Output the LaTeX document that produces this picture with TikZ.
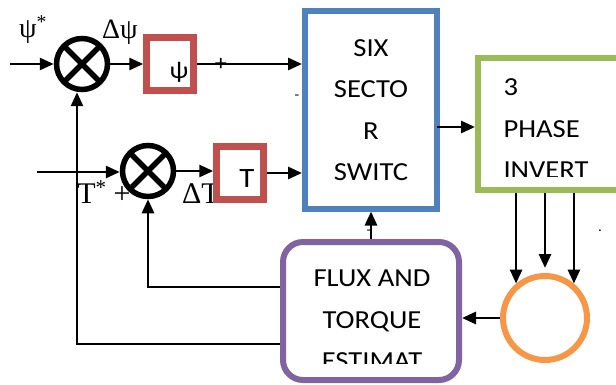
\documentclass[tikz,border=0pt]{standalone}
\usepackage{fontspec}
\setmainfont{Liberation Serif}
\newfontfamily\boxfont[FakeStretch=1.1]{Carlito}
\usetikzlibrary{arrows.meta,positioning,calc}
\definecolor{fluxred}{HTML}{C0504D}
\definecolor{ctrlblue}{HTML}{4F81BD}
\definecolor{invgreen}{HTML}{9BBB59}
\definecolor{estpurple}{HTML}{8064A2}
\definecolor{motororange}{HTML}{F79646}

\begin{document}
\begin{tikzpicture}[x=1pt, y=-1pt,
  >={Triangle[length=14pt,width=12pt]},
  wire/.style={line width=2.8pt},
  sum/.style={circle, draw, line width=5.5pt, minimum size=51pt, inner sep=0pt,
    path picture={\draw[line width=5.5pt] (path picture bounding box.north west) -- (path picture bounding box.south east)
      (path picture bounding box.north east) -- (path picture bounding box.south west);}},
  hyst/.style={draw=fluxred, fill=white, line width=6.5pt, minimum width=47pt, minimum height=53pt, inner sep=0pt},
  blk/.style={line width=6pt, inner sep=0pt},
  boxtxt/.style={font=\boxfont\fontsize{26}{41.5}\selectfont},
  sig/.style={font=\fontsize{28}{28}\selectfont, inner sep=0pt},
  bigsig/.style={font=\fontsize{30}{30}\selectfont, inner sep=0pt},
  mark/.style={font=\boxfont\fontsize{#1}{#1}\selectfont, inner sep=0pt}]
  \clip (0,0) rectangle (616,385);
  % summing junctions
  \node[sum] (sumpsi) at (82,64) {};
  \node[sum] (sumT) at (148,171) {};
  % reference and error labels
  \node[sig] (psiref) at (33,30) {ψ\textsuperscript{*}};
  \node[sig] (dpsi) at (120,32) {Δψ};
  \node[bigsig] (Tref) at (92,192) {T\textsuperscript{*}};
  \node[bigsig] (plusT) at (122,195) {+};
  \node[bigsig] (dT) at (201,194) {ΔT};
  % hysteresis comparators
  \node[hyst] (psibox) at (170,64) {};
  \node[mark=24] (psichar) at (179,72) {ψ};
  \node[hyst] (Tbox) at (240,173) {};
  \node[mark=28] (Tchar) at (247,179) {T};
  % switching table, inverter, estimator, motor
  \node[blk, draw=ctrlblue, minimum width=132pt, minimum height=197pt, boxtxt, align=center] (six) at (371,110) {SIX\\SECTO\\R\\SWITC};
  \node[blk, draw=invgreen, minimum width=162pt, minimum height=132pt] (inv) at (559,124) {};
  \node[blk, draw=estpurple, rounded corners=20pt, minimum width=176pt, minimum height=138pt] (est) at (371,311) {};
  \node[circle, draw=motororange, line width=6pt, minimum size=84pt, inner sep=0pt] (motor) at (545,318) {};
  \begin{scope}
    \clip (inv.north west) rectangle ([yshift=16pt]inv.south east);
    \node[boxtxt, align=left, anchor=west] (invtext) at (500,129) {3\\PHASE\\INVERT};
  \end{scope}
  \begin{scope}
    \clip (est.north west) rectangle ([yshift=20pt]est.south east);
    \node[boxtxt, align=center] (esttext) at (372,320) {FLUX AND\\TORQUE\\ESTIMAT};
  \end{scope}
  % small marks
  \node[mark=22] (plustop) at (221,64) {+};
  \node[mark=14] (minustop) at (297,97) {-};
  \node[mark=14] (minusest) at (369,232) {-};
  \node[mark=14] (dot) at (600,231) {.};
  % forward path
  \coordinate (psiin) at (10,64);
  \coordinate (Tin) at (37,172);
  \draw[wire,->] (psiin) -- (sumpsi);
  \draw[wire,->] (sumpsi) -- (psibox);
  \draw[wire,->] (psibox) -- (psibox -| six.west);
  \draw[wire,->] (Tin) -- (Tin -| sumT.west);
  \draw[wire,->] (sumT.east) -- (sumT.east -| Tbox.west);
  \draw[wire,->] (Tbox.east) -- (Tbox.east -| six.west);
  \coordinate (sixout) at (437,127);
  \draw[wire,->] (sixout) -- (sixout -| inv.west);
  % phase lines
  \draw[wire,->] (motor.130 |- inv.south) -- (motor.130);
  \draw[wire,->] (motor.north |- inv.south) -- ([yshift=5pt]motor.north);
  \draw[wire,->] (motor.50 |- inv.south) -- (motor.50);
  % feedback
  \draw[wire,->] (motor.west) -- (motor.west -| est.east);
  \draw[wire,->] (est.north) -- (six.south);
  \coordinate (fbT) at (148,287);
  \draw[wire,->] (fbT -| est.west) -- (fbT) -- (sumT.south);
  \coordinate (fbpsi) at (77,344);
  \draw[wire,->] (fbpsi -| est.west) -- (fbpsi) -- (fbpsi |- sumpsi.south);
\end{tikzpicture}
\end{document}
